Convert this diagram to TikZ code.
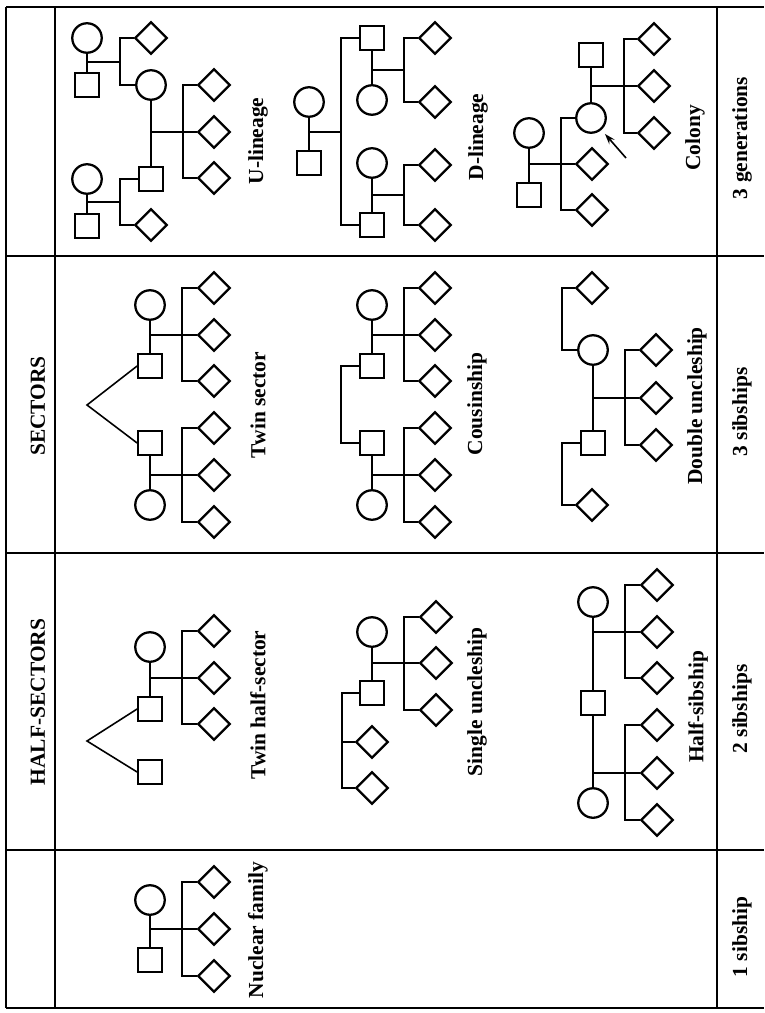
\documentclass[tikz,border=0pt]{standalone}
\usepackage{fontspec}
\setmainfont{Liberation Serif}
\usetikzlibrary{shapes.geometric,arrows.meta}

\tikzset{
  male/.style={draw,rectangle,minimum size=0.47cm,inner sep=0pt,line width=1.3pt},
  female/.style={draw,circle,minimum size=0.59cm,inner sep=0pt,line width=1.3pt},
  kid/.style={draw,diamond,minimum size=0.65cm,inner sep=0pt,line width=1.3pt},
  lbl/.style={rotate=90,font=\fontsize{12.2}{14}\selectfont\bfseries,inner sep=0pt},
  tie/.style={line width=0.9pt},
  rule/.style={line width=1.3pt},
}

\begin{document}
\begin{tikzpicture}[x=0.02cm,y=-0.02cm,>={Stealth[length=6pt,width=4pt]},line join=miter]
\useasboundingbox (0,0) rectangle (764,1013);
% table
\draw[rule] (6,7) -- (764,7) (6,256) -- (764,256) (6,553) -- (764,553)
  (6,850) -- (764,850) (6,1008) -- (764,1008);
\draw[rule] (6,7) -- (6,1008) (55,7) -- (55,1008) (717,7) -- (717,1008);
\node[lbl] (hdS) at (38,406) {SECTORS};
\node[lbl] (hdH) at (38,702) {HALF-SECTORS};
\node[lbl] (ft3) at (742,138) {3 generations};
\node[lbl] (ft2) at (742,412) {3 sibships};
\node[lbl] (ft1) at (742,709) {2 sibships};
\node[lbl] (ft0) at (742,937) {1 sibship};

% U-lineage
\node[female] (ulF1) at (87,38) {};
\node[male] (ulM1) at (87,85) {};
\coordinate (ulJ1) at (120,62);
\node[kid] (ulK1) at (151,38) {};
\node[female] (ulF2) at (151,85) {};
\node[female] (ulF3) at (87,179) {};
\node[male] (ulM3) at (87,226) {};
\coordinate (ulJ3) at (120,202);
\node[male] (ulM2) at (151,179) {};
\node[kid] (ulK2) at (151,225) {};
\coordinate (ulJ2) at (183,132);
\node[kid] (ulK3) at (214,85) {};
\node[kid] (ulK4) at (214,132) {};
\node[kid] (ulK5) at (214,178) {};
\draw[tie] (ulF1) -- (ulM1) (ulF1 |- ulJ1) -- (ulJ1) (ulK1) -| (ulJ1) |- (ulF2);
\draw[tie] (ulF3) -- (ulM3) (ulF3 |- ulJ3) -- (ulJ3) (ulM2) -| (ulJ3) |- (ulK2);
\draw[tie] (ulF2) -- (ulM2) (ulF2 |- ulJ2) -- (ulJ2) -- (ulK4) (ulK3) -| (ulJ2) |- (ulK5);
\node[lbl] (ulL) at (258,141) {U-lineage};

% D-lineage
\node[female] (dlF1) at (309,102) {};
\node[male] (dlM1) at (309,163) {};
\coordinate (dlJ1) at (341,132);
\node[male] (dlM2) at (372,38) {};
\node[female] (dlF2) at (372,100) {};
\coordinate (dlJ2) at (404,70);
\node[kid] (dlK1) at (435,38) {};
\node[kid] (dlK2) at (435,102) {};
\node[female] (dlF3) at (372,163) {};
\node[male] (dlM3) at (372,225) {};
\coordinate (dlJ3) at (404,195);
\node[kid] (dlK3) at (435,165) {};
\node[kid] (dlK4) at (435,225) {};
\draw[tie] (dlF1) -- (dlM1) (dlF1 |- dlJ1) -- (dlJ1) (dlM2) -| (dlJ1) |- (dlM3);
\draw[tie] (dlM2) -- (dlF2) (dlM2 |- dlJ2) -- (dlJ2) (dlK1) -| (dlJ2) |- (dlK2);
\draw[tie] (dlF3) -- (dlM3) (dlF3 |- dlJ3) -- (dlJ3) (dlK3) -| (dlJ3) |- (dlK4);
\node[lbl] (dlL) at (478,137) {D-lineage};

% Colony
\node[female] (coF1) at (529,133) {};
\node[male] (coM1) at (529,195) {};
\coordinate (coJ1) at (561,164);
\node[female] (coF2) at (591,118) {};
\node[kid] (coK1) at (592,164) {};
\node[kid] (coK2) at (592,210) {};
\node[male] (coM2) at (591,55) {};
\coordinate (coJ2) at (624,86);
\node[kid] (coK3) at (654,39) {};
\node[kid] (coK4) at (654,86) {};
\node[kid] (coK5) at (654,133) {};
\coordinate (coP) at (626,158);
\draw[tie] (coF1) -- (coM1) (coF1 |- coJ1) -- (coJ1) -- (coK1) (coF2) -| (coJ1) |- (coK2);
\draw[tie] (coM2) -- (coF2) (coM2 |- coJ2) -- (coJ2) -- (coK4) (coK3) -| (coJ2) |- (coK5);
\draw[tie,->,shorten >=3pt] (coP) -- (coF2);
\node[lbl] (coL) at (695,138) {Colony};

% Twin sector
\node[female] (tsF1) at (150,305) {};
\node[male] (tsM1) at (150,366) {};
\node[male] (tsM2) at (150,443) {};
\node[female] (tsF2) at (150,505) {};
\coordinate (tsJ1) at (182,335);
\coordinate (tsJ2) at (182,475);
\coordinate (tsA) at (87,405);
\node[kid] (tsK1) at (214,288) {};
\node[kid] (tsK2) at (214,335) {};
\node[kid] (tsK3) at (214,381) {};
\node[kid] (tsK4) at (214,428) {};
\node[kid] (tsK5) at (214,475) {};
\node[kid] (tsK6) at (214,522) {};
\draw[tie] (tsF1) -- (tsM1) (tsF1 |- tsJ1) -- (tsJ1) -- (tsK2) (tsK1) -| (tsJ1) |- (tsK3);
\draw[tie] (tsM2) -- (tsF2) (tsM2 |- tsJ2) -- (tsJ2) -- (tsK5) (tsK4) -| (tsJ2) |- (tsK6);
\draw[tie] (tsM1.west) -- (tsA) -- (tsM2.west);
\node[lbl] (tsL) at (258,405) {Twin sector};

% Cousinship
\node[female] (csF1) at (372,305) {};
\node[male] (csM1) at (372,366) {};
\node[male] (csM2) at (372,443) {};
\node[female] (csF2) at (372,505) {};
\coordinate (csJ1) at (404,335);
\coordinate (csJ2) at (404,475);
\coordinate (csS) at (341,405);
\node[kid] (csK1) at (435,288) {};
\node[kid] (csK2) at (435,335) {};
\node[kid] (csK3) at (435,381) {};
\node[kid] (csK4) at (435,428) {};
\node[kid] (csK5) at (435,475) {};
\node[kid] (csK6) at (435,522) {};
\draw[tie] (csF1) -- (csM1) (csF1 |- csJ1) -- (csJ1) -- (csK2) (csK1) -| (csJ1) |- (csK3);
\draw[tie] (csM2) -- (csF2) (csM2 |- csJ2) -- (csJ2) -- (csK5) (csK4) -| (csJ2) |- (csK6);
\draw[tie] (csM1) -| (csS) |- (csM2);
\node[lbl] (csL) at (477,404) {Cousinship};

% Double uncleship
\node[female] (duF) at (593,350) {};
\node[male] (duM) at (593,443) {};
\coordinate (duJ) at (625,398);
\node[kid] (duK1) at (656,350) {};
\node[kid] (duK2) at (656,398) {};
\node[kid] (duK3) at (656,445) {};
\node[kid] (duU1) at (592,288) {};
\node[kid] (duU2) at (592,505) {};
\coordinate (duS1) at (562,319);
\coordinate (duS2) at (562,474);
\draw[tie] (duF) -- (duM) (duF |- duJ) -- (duJ) -- (duK2) (duK1) -| (duJ) |- (duK3);
\draw[tie] (duU1) -| (duS1) |- (duF) (duM) -| (duS2) |- (duU2);
\node[lbl] (duL) at (697,406) {Double uncleship};

% Twin half-sector
\node[female] (thF) at (150,647) {};
\node[male] (thM) at (150,709) {};
\node[male] (thT) at (150,772) {};
\coordinate (thJ) at (182,678);
\coordinate (thA) at (87,741);
\node[kid] (thK1) at (214,631) {};
\node[kid] (thK2) at (214,678) {};
\node[kid] (thK3) at (214,724) {};
\draw[tie] (thF) -- (thM) (thF |- thJ) -- (thJ) -- (thK2) (thK1) -| (thJ) |- (thK3);
\draw[tie] (thM.west) -- (thA) -- (thT.west);
\node[lbl] (thL) at (258,705) {Twin half-sector};

% Single uncleship
\node[female] (suF) at (372,632) {};
\node[male] (suM) at (372,693) {};
\coordinate (suJ) at (404,663);
\node[kid] (suK1) at (436,617) {};
\node[kid] (suK2) at (436,663) {};
\node[kid] (suK3) at (436,710) {};
\coordinate (suS) at (342,742);
\node[kid] (suU1) at (372,742) {};
\node[kid] (suU2) at (372,788) {};
\draw[tie] (suF) -- (suM) (suF |- suJ) -- (suJ) -- (suK2) (suK1) -| (suJ) |- (suK3);
\draw[tie] (suM) -| (suS) |- (suU2) (suS) -- (suU1);
\node[lbl] (suL) at (477,702) {Single uncleship};

% Half-sibship
\node[female] (hsF1) at (593,602) {};
\node[male] (hsM) at (593,703) {};
\node[female] (hsF2) at (593,803) {};
\coordinate (hsJ1) at (625,632);
\coordinate (hsJ2) at (625,773);
\node[kid] (hsK1) at (657,585) {};
\node[kid] (hsK2) at (657,632) {};
\node[kid] (hsK3) at (657,678) {};
\node[kid] (hsK4) at (657,725) {};
\node[kid] (hsK5) at (657,773) {};
\node[kid] (hsK6) at (657,820) {};
\draw[tie] (hsF1) -- (hsM) -- (hsF2);
\draw[tie] (hsF1 |- hsJ1) -- (hsJ1) -- (hsK2) (hsK1) -| (hsJ1) |- (hsK3);
\draw[tie] (hsF2 |- hsJ2) -- (hsJ2) -- (hsK5) (hsK4) -| (hsJ2) |- (hsK6);
\node[lbl] (hsL) at (698,707) {Half-sibship};

% Nuclear family
\node[female] (nfF) at (150,900) {};
\node[male] (nfM) at (150,960) {};
\coordinate (nfJ) at (182,929);
\node[kid] (nfK1) at (214,882) {};
\node[kid] (nfK2) at (214,929) {};
\node[kid] (nfK3) at (214,976) {};
\draw[tie] (nfF) -- (nfM) (nfF |- nfJ) -- (nfJ) -- (nfK2) (nfK1) -| (nfJ) |- (nfK3);
\node[lbl] (nfL) at (258,930) {Nuclear family};
\end{tikzpicture}
\end{document}
